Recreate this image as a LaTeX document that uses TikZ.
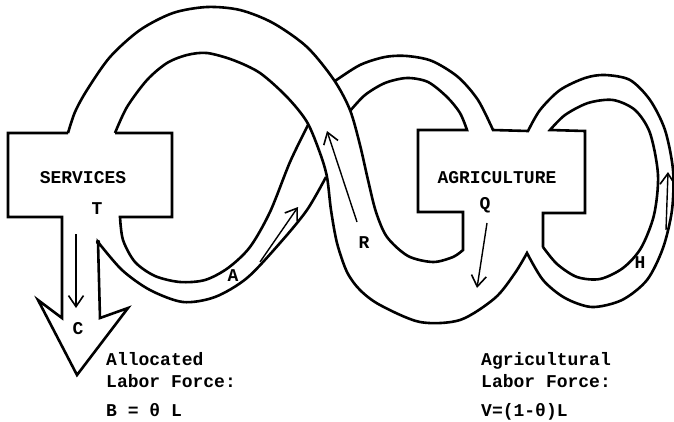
\documentclass[tikz,border=0pt]{standalone}
\usepackage{fontspec}
\newfontfamily\tw{Liberation Mono}
\usetikzlibrary{arrows.meta}
\begin{document}
\begin{tikzpicture}[x=1pt,y=-1pt,
  edge/.style={line width=2.6pt},
  flow/.style={line width=1.4pt, -{Straight Barb[length=11pt,width=15pt,line width=1.6pt]}},
  lbl/.style={font=\tw\bfseries\fontsize{18}{20}\selectfont, inner sep=0pt},
  txt/.style={font=\tw\bfseries\fontsize{18}{22}\selectfont, inner sep=0pt, anchor=base west}]
\useasboundingbox (0,0) rectangle (674,421);

% Services T-box with down arrow, and outer edge of band A
\draw[edge] (68,133) -- (8,133) -- (8,217) -- (62,217) -- (62,318) -- (38,300) -- (77,375)
  -- (128,308) -- (100,318) -- (98,242)
  -- plot[smooth] coordinates {(98,242) (122,270) (150,290) (183,302) (215,297) (247,278) (280,243) (307,210) (326,177)};
\fill (98,242) circle (2.2pt);
% right part of services box and inner edge of band A
\draw[edge] (115,133) -- (172,133) -- (172,217) -- (120,217)
  -- plot[smooth] coordinates {(120,217) (123,240) (135,262) (155,276) (180,282) (205,280) (228,268) (250,247) (270,212) (290,162) (308,125)};

% Big loop outer edge into agriculture (left side) and inner edge of top-left loop
\draw[edge] plot[smooth] coordinates {(68,133) (75,112) (87,90) (110,57) (140,30) (173,13) (207,7) (240,10) (273,23) (307,47) (334,80) (350,110) (360,145) (368,180) (376,212) (387,237) (408,256) (433,262) (453,257) (463,250)}
  -- (463,212) -- (418,212) -- (418,130) -- (467,130)
  -- plot[smooth] coordinates {(467,130) (460,113) (447,97) (428,82) (407,78) (385,83) (365,95) (350,111)};

% Big loop inner edge, bottom loop, H outer edge, top-left loop outer edge
\draw[edge] plot[smooth] coordinates {(115,133) (127,107) (147,80) (167,63) (187,55) (207,53) (233,60) (260,73) (287,97) (307,122) (320,153) (327,177) (331,210) (337,243) (347,272) (360,290) (380,305) (420,322) (460,320) (495,298) (515,273) (527,253)}
  -- plot[smooth] coordinates {(527,253) (543,280) (565,298) (592,307) (622,300) (647,280) (663,248) (672,210) (673,170) (665,130) (650,100) (630,80) (605,75) (585,78) (560,90) (540,110) (528,131)}
  -- (493,130)
  -- plot[smooth] coordinates {(493,130) (478,100) (458,77) (432,61) (407,56) (385,57) (360,65) (335,81)};

% Agriculture right part and H inner edge
\draw[edge] (543,247) -- (543,213) -- (585,213) -- (585,131) -- (550,130)
  -- plot[smooth] coordinates {(550,130) (565,115) (588,103) (613,100) (635,110) (650,133) (658,175) (654,215) (641,248) (623,268) (600,279) (577,277) (557,264) (543,247)};

% flow arrows
\coordinate (c0) at (76,234); \coordinate (c1) at (76,308);
\coordinate (a0) at (260,262); \coordinate (a1) at (298,207);
\coordinate (r0) at (357,222); \coordinate (r1) at (327,131);
\coordinate (q0) at (487,223); \coordinate (q1) at (477,288);
\coordinate (h0) at (666,230); \coordinate (h1) at (668,172);
\draw[flow] (c0) -- (c1);
\draw[flow] (a0) -- (a1);
\draw[flow] (r0) -- (r1);
\draw[flow] (q0) -- (q1);
\draw[flow] (h0) -- (h1);

% labels
\node[lbl] (serv) at (83,178) {SERVICES};
\node[lbl] (T) at (97,209) {T};
\node[lbl] (C) at (78,329) {C};
\node[lbl] (A) at (233,276) {A};
\node[lbl] (R) at (364,243) {R};
\node[lbl] (agri) at (497,178) {AGRICULTURE};
\node[lbl] (Q) at (485,205) {Q};
\node[lbl] (H) at (640,263) {H};

\node[txt] (t1) at (106,365) {Allocated};
\node[txt] (t2) at (106,387) {Labor Force:};
\node[txt] (t3) at (106,416) {B = θ L};
\node[txt] (u1) at (481,365) {Agricultural};
\node[txt] (u2) at (481,387) {Labor Force:};
\node[txt] (u3) at (481,416) {V=(1-θ)L};
\end{tikzpicture}
\end{document}
